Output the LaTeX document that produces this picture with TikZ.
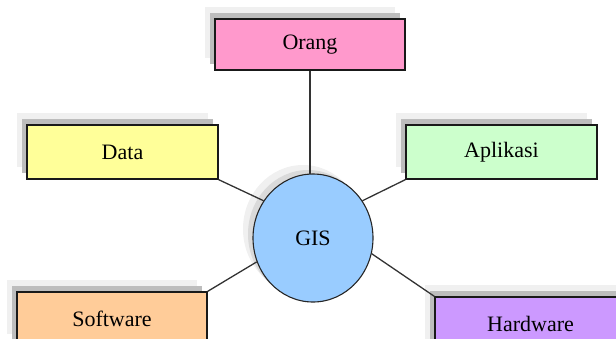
\documentclass[tikz,border=0pt]{standalone}
\usepackage{fontspec}
\setmainfont{Liberation Serif}
\usetikzlibrary{shadows,shapes.geometric}
\definecolor{cOrang}{HTML}{FF99CC}
\definecolor{cData}{HTML}{FFFF99}
\definecolor{cApl}{HTML}{CCFFCC}
\definecolor{cSoft}{HTML}{FFCC99}
\definecolor{cHard}{HTML}{CC99FF}
\definecolor{cGis}{HTML}{99CCFF}
\definecolor{shLight}{HTML}{F0F0F0}
\definecolor{shDark}{HTML}{BDBDBD}
\definecolor{shMid}{HTML}{DADADA}
\definecolor{lineC}{HTML}{333333}
\tikzset{
  box/.style={draw=black!90, line width=1.3pt, minimum width=191pt, minimum height=54pt,
    inner sep=0pt, font=\fontsize{22}{25}\selectfont,
    general shadow={fill=shLight, shadow xshift=-10pt, shadow yshift=12pt},
    general shadow={fill=shDark, shadow xshift=-5pt, shadow yshift=6pt}},
  hub/.style={ellipse, draw=black!85, line width=1.1pt, fill=cGis, minimum width=120pt,
    minimum height=128pt, inner sep=0pt, font=\fontsize{22}{25}\selectfont,
    general shadow={fill=shLight, shadow xshift=-10pt, shadow yshift=9pt},
    general shadow={fill=shMid, shadow xshift=-5pt, shadow yshift=4pt}},
  link/.style={draw=lineC, line width=1.3pt}
}
\begin{document}
\begin{tikzpicture}[x=1pt, y=-1pt]
\useasboundingbox (0,0) rectangle (616,338);
\clip (0,0) rectangle (616,338);
\node[box, fill=cOrang, minimum width=190pt, minimum height=51pt] (orang) at (310,44.5) {Orang};
\node[box, fill=cData] (data) at (122.5,152) {Data};
\node[box, fill=cApl] (apl) at (501.5,152) {Aplikasi};
\node[box, fill=cSoft, minimum width=190pt] (soft) at (112,319) {Software};
\node[box, fill=cHard] (hard) at (530.5,324) {Hardware};
\node[hub] (gis) at (313,238) {GIS};
\coordinate (top) at (orang.south |- gis.north);
\draw[link] (orang.south) -- ([yshift=-1pt]top);
\draw[link] (data.south east) -- (gis.143);
\draw[link] (apl.south west) -- (gis.37);
\draw[link] (soft.north east) -- (gis.203);
\draw[link] (hard.north west) -- (gis.-15);
\end{tikzpicture}
\end{document}
